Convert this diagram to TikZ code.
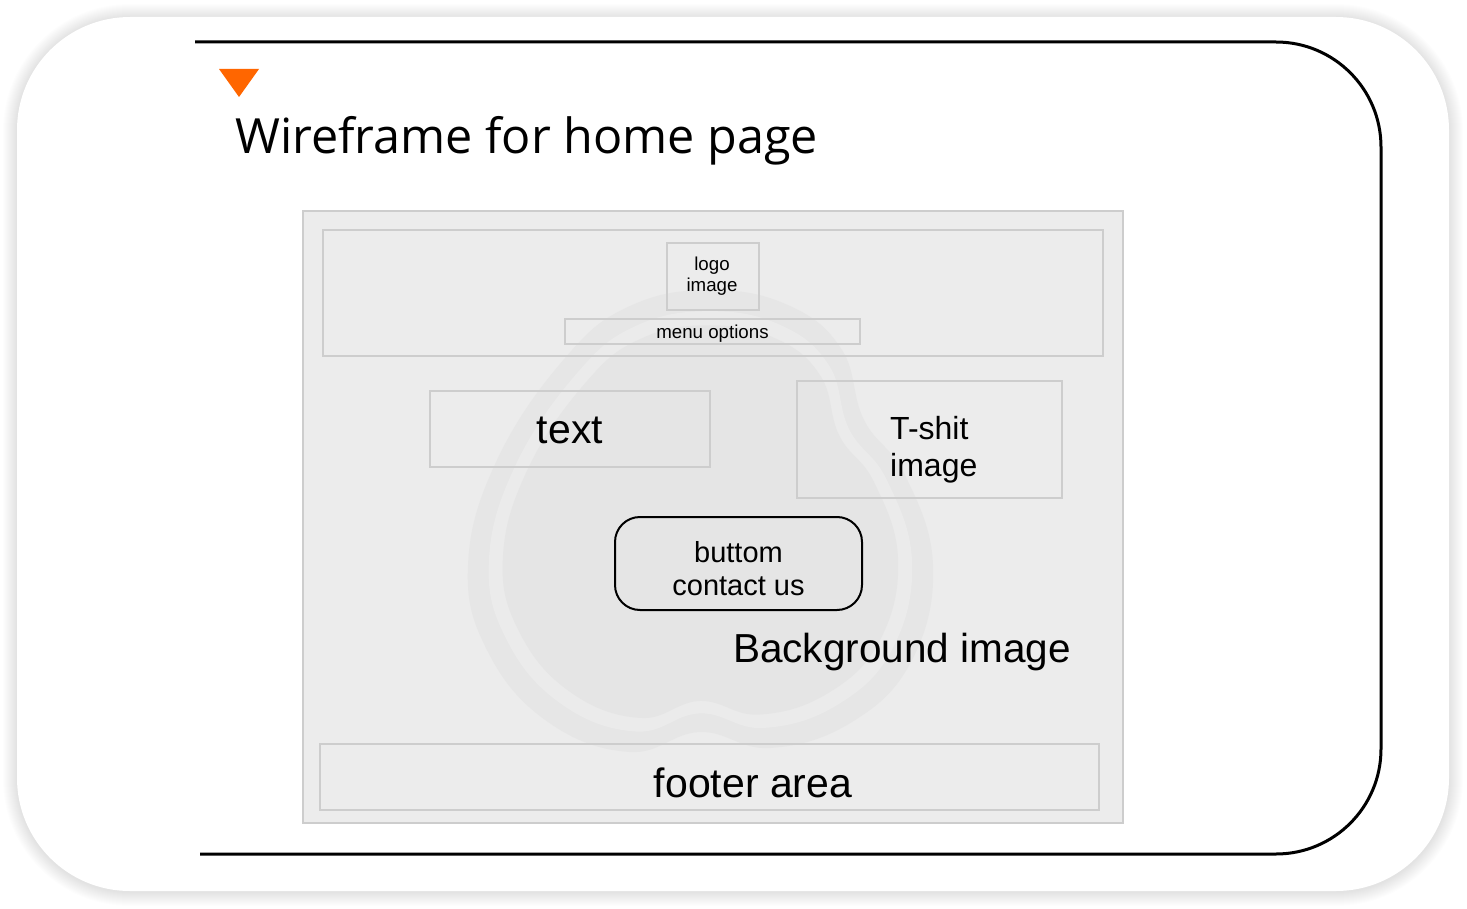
\documentclass[tikz,border=0pt]{standalone}
\usepackage{fontspec}
\setmainfont{Liberation Sans}
\newfontfamily\titlefont{Open Sans}
\definecolor{wfline}{HTML}{CDCDCD}
\definecolor{wfbg}{HTML}{ECECEC}
\definecolor{ghostA}{HTML}{E6E6E6}
\definecolor{ghostB}{HTML}{EBEBEB}
\definecolor{ghostC}{HTML}{E5E5E5}
\definecolor{accent}{HTML}{FF6600}
\tikzset{
  panel/.style={draw=wfline, fill=wfbg, line width=2, inner sep=0},
  wfbox/.style={draw=wfline, line width=2, inner sep=0},
  btn/.style={draw=black, line width=2, rounded corners=25, inner sep=0},
  lbl/.style={inner sep=0, text=black, align=center},
}
\begin{document}
\begin{tikzpicture}[x=1pt,y=-1pt]
\useasboundingbox (0,0) rectangle (1467,909);
\fill[white] (0,0) rectangle (1467,909);

% soft shadow around the card
\foreach \d in {1,...,14}{
  \pgfmathsetmacro\r{113+\d}
  \fill[black, opacity=0.009, rounded corners=\r pt]
    ({17-\d},{18-\d}) rectangle ({1449+\d},{892+\d});
}
% card
\fill[white, rounded corners=113] (17,17) rectangle (1449,891);

% open frame line
\draw[line width=3, rounded corners=105] (195,42) -- (1381,42) -- (1381,854) -- (200,854);

% marker and title
\fill[accent] (219,69) -- (259,69) -- (239,97) -- cycle;
\node[lbl, anchor=base west, font=\titlefont\fontsize{48.5}{58}\selectfont] (title) at (235,154)
  {Wireframe for home page};

% page panel
\node[panel, minimum width=820, minimum height=612] (page) at (713,517) {};

% faint background picture
\def\ghost{plot[smooth cycle, tension=0.7] coordinates {
  (712,290) (790,306) (842,350) (864,420) (905,475) (933,565) (912,660)
  (852,722) (770,748) (700,732) (630,752) (548,722) (488,652) (468,565)
  (497,460) (565,358) (630,306)}}
\fill[ghostA] \ghost;
\begin{scope}[shift={(700,525)}, scale=0.91, shift={(-700,-525)}]
  \fill[ghostB] \ghost;
\end{scope}
\begin{scope}[shift={(700,525)}, scale=0.85, shift={(-700,-525)}]
  \fill[ghostC] \ghost;
\end{scope}

% header
\node[wfbox, minimum width=780, minimum height=126] (header) at (713,293) {};
\node[wfbox, minimum width=92, minimum height=67] (logo) at (713,276.5) {};
\node[lbl, font=\fontsize{18.7}{21}\selectfont] (logotext) at (712,276) {logo\\image};
\node[wfbox, minimum width=295, minimum height=25] (menu) at (712.5,331.5) {};
\node[lbl, font=\fontsize{18.7}{21}\selectfont] (menulbl) at (712.5,333.5) {menu options};

% content
\node[wfbox, minimum width=280, minimum height=76] (textbox) at (570,429) {};
\node[lbl, font=\fontsize{41}{46}\selectfont] (textlbl) at (570,430) {text};
\node[wfbox, minimum width=265, minimum height=117] (shirt) at (929.5,439.5) {};
\node[lbl, align=left, anchor=west, font=\fontsize{32}{37}\selectfont] (shirtlbl) at (890,450) {T-shit\\image};
\node[btn, minimum width=247, minimum height=93] (button) at (738.5,563.5) {};
\node[lbl, font=\fontsize{29}{33}\selectfont] (btnlbl) at (738.5,568.5) {buttom\\contact us};
\node[lbl, anchor=base west, font=\fontsize{40.5}{46}\selectfont] (bglbl) at (733,662) {Background image};

% footer
\node[wfbox, minimum width=779, minimum height=66] (footer) at (709.5,777) {};
\node[lbl, anchor=base, font=\fontsize{41}{46}\selectfont] (footerlbl) at (753,797) {footer area};
\end{tikzpicture}
\end{document}
